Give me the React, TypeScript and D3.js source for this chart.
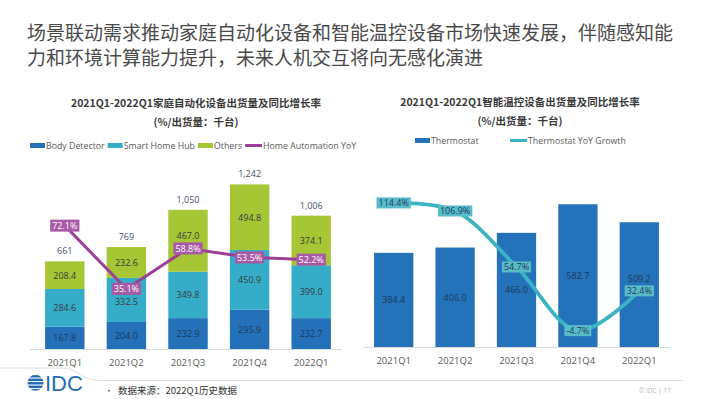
import React, { useEffect, useRef } from "react";
import * as d3 from "d3";

const quarters = ["2021Q1", "2021Q2", "2021Q3", "2021Q4", "2022Q1"];
const bodyDetector = [167.8, 204.0, 232.9, 295.9, 232.7];
const smartHomeHub = [284.6, 332.5, 349.8, 450.9, 399.0];
const others = [208.4, 232.6, 467.0, 494.8, 374.1];
const homeTotals = [661, 769, 1050, 1242, 1006];
const homeYoY = [72.1, 35.1, 58.8, 53.5, 52.2];
const thermostat = [384.4, 406.0, 466.0, 582.7, 509.2];
const thermostatYoY = [114.4, 106.9, 54.7, -4.7, 32.4];

const titleLines = [
  "场景联动需求推动家庭自动化设备和智能温控设备市场快速发展，伴随感知能",
  "力和环境计算能力提升，未来人机交互将向无感化演进",
];
const leftTitle = "2021Q1-2022Q1家庭自动化设备出货量及同比增长率";
const rightTitle = "2021Q1-2022Q1智能温控设备出货量及同比增长率";
const unitTitle = "(%/出货量：千台)";
const leftLegend = ["Body Detector", "Smart Home Hub", "Others", "Home Automation YoY"];
const rightLegend = ["Thermostat", "Thermostat YoY Growth"];
const sourceText = "数据来源：2022Q1历史数据";

const C = {
  body: "#2470b9",
  hub: "#35adc9",
  others: "#a7c636",
  purple: "#9d3f98",
  purpleBox: "#a75aa5",
  thermo: "#2472b9",
  teal: "#3cb3c2",
  tealBox: "#58bcc8",
  text: "#3a3a3a",
};

const LATIN = "'Open Sans', 'Noto Sans', sans-serif";
const CJK = "'Noto Sans CJK SC', 'Noto Sans', sans-serif";

const fmt1 = (v: number) => d3.format(".1f")(v).replace("\u2212", "-");

export default function App() {
  const ref = useRef<SVGSVGElement>(null);

  useEffect(() => {
    const svg = d3.select(ref.current);
    svg.selectAll("*").remove();

    // Headline
    svg
      .selectAll("text.headline")
      .data(titleLines)
      .enter()
      .append("text")
      .attr("x", 27)
      .attr("y", (_d, i) => 40 + i * 25)
      .attr("font-family", CJK)
      .attr("font-size", 19)
      .attr("fill", "#4a4a4a")
      .text((d) => d);

    const chartTitle = (cx: number, y: number, t: string, sub: string) => {
      [t, sub].forEach((s, k) => {
        svg
          .append("text")
          .attr("x", cx)
          .attr("y", y + k * 18.5)
          .attr("text-anchor", "middle")
          .attr("dominant-baseline", "central")
          .attr("font-family", CJK)
          .attr("font-weight", 700)
          .attr("font-size", 10.5)
          .attr("fill", "#3a3a3a")
          .text(s);
      });
    };
    chartTitle(196, 102.5, leftTitle, unitTitle);
    chartTitle(520, 101.5, rightTitle, unitTitle);

    const legendItem = (
      g: d3.Selection<SVGGElement, unknown, null, undefined>,
      x: number,
      y: number,
      label: string,
      color: string,
      isLine: boolean
    ) => {
      if (isLine) {
        g.append("line")
          .attr("x1", x)
          .attr("x2", x + 17)
          .attr("y1", y)
          .attr("y2", y)
          .attr("stroke", color)
          .attr("stroke-width", 3);
      } else {
        g.append("rect")
          .attr("x", x)
          .attr("y", y - 2.5)
          .attr("width", 15)
          .attr("height", 5)
          .attr("fill", color);
      }
      const t = g
        .append("text")
        .attr("x", x + (isLine ? 17 : 15) + 1)
        .attr("y", y)
        .attr("dominant-baseline", "central")
        .attr("font-family", LATIN)
        .attr("font-size", 8.8)
        .attr("fill", "#595959")
        .text(label);
      return (t.node() as SVGTextElement).getComputedTextLength();
    };

    const pctLabel = (
      g: d3.Selection<SVGGElement, unknown, null, undefined>,
      cx: number,
      cy: number,
      v: number,
      fill: string,
      textFill: string,
      h: number
    ) => {
      const gg = g.append("g");
      const r = gg.append("rect").attr("fill", fill);
      const t = gg
        .append("text")
        .attr("x", cx)
        .attr("y", cy)
        .attr("text-anchor", "middle")
        .attr("dominant-baseline", "central")
        .attr("font-family", LATIN)
        .attr("font-size", 9)
        .attr("fill", textFill)
        .text(fmt1(v) + "%");
      const w = (t.node() as SVGTextElement).getComputedTextLength();
      r.attr("x", cx - w / 2 - 2)
        .attr("y", cy - h / 2)
        .attr("width", w + 4)
        .attr("height", h);
    };

    // bar label placement: moved off a percent box when they collide
    const placeLabel = (mid: number, boxY: number, h: number) => {
      if (Math.abs(mid - boxY) < 9) return boxY - h / 2 - 7;
      if (mid > boxY && mid - boxY < 13) return boxY + h / 2 + 6.8;
      return mid;
    };

    // ---------------- Left chart ----------------
    const L = svg.append("g");
    const lBase = 349;
    const xL = d3.scaleBand<string>().domain(quarters).range([34, 342]).paddingInner(0.36).paddingOuter(0.18);
    const yL = d3.scaleLinear().domain([0, 1400]).range([lBase, lBase - 185.6]);
    const pL = d3.scaleLinear().domain([0, 100]).range([lBase, lBase - 171.1]);

    {
      const lg = L.append("g");
      const colors = [C.body, C.hub, C.others, C.purple];
      let x = 30;
      leftLegend.forEach((lab, i) => {
        const w = legendItem(lg, x, 145.5, lab, colors[i], i === 3);
        x += (i === 3 ? 17 : 15) + 1 + w + 3;
      });
    }

    L.append("line")
      .attr("x1", 30)
      .attr("x2", 342)
      .attr("y1", lBase + 0.5)
      .attr("y2", lBase + 0.5)
      .attr("stroke", "#d9d9d9");

    const stackData = quarters.map((q, i) => ({
      q,
      i,
      body: bodyDetector[i],
      hub: smartHomeHub[i],
      others: others[i],
    }));
    const keys = ["body", "hub", "others"];
    const stack = d3.stack<any>().keys(keys)(stackData);
    const segColors: Record<string, string> = { body: C.body, hub: C.hub, others: C.others };

    const barsL = L.append("g");
    const labelsL = L.append("g");
    stack.forEach((layer) => {
      const key = layer.key;
      layer.forEach((d: any) => {
        const q = d.data.q;
        barsL
          .append("rect")
          .attr("x", xL(q)!)
          .attr("y", yL(d[1]))
          .attr("width", xL.bandwidth())
          .attr("height", yL(d[0]) - yL(d[1]))
          .attr("fill", segColors[key]);
        const mid = (yL(d[0]) + yL(d[1])) / 2;
        labelsL
          .append("text")
          .attr("x", xL(q)! + xL.bandwidth() / 2)
          .attr("y", placeLabel(mid, pL(homeYoY[d.data.i]), 12))
          .attr("text-anchor", "middle")
          .attr("dominant-baseline", "central")
          .attr("font-family", LATIN)
          .attr("font-size", 9)
          .attr("fill", key === "body" ? "#1f3a5c" : "#3a3a3a")
          .text(fmt1(d.data[key]));
      });
    });

    quarters.forEach((q, i) => {
      L.append("text")
        .attr("x", xL(q)! + xL.bandwidth() / 2)
        .attr("y", yL(homeTotals[i]) - 10.5)
        .attr("text-anchor", "middle")
        .attr("dominant-baseline", "central")
        .attr("font-family", LATIN)
        .attr("font-size", 9)
        .attr("fill", "#44546a")
        .text(d3.format(",")(homeTotals[i]));
    });

    const lineL = d3
      .line<number>()
      .x((_d, i) => xL(quarters[i])! + xL.bandwidth() / 2)
      .y((d) => pL(d));
    L.append("path")
      .attr("d", lineL(homeYoY)!)
      .attr("fill", "none")
      .attr("stroke", C.purple)
      .attr("stroke-width", 3)
      .attr("stroke-linejoin", "round");

    homeYoY.forEach((v, i) => {
      pctLabel(L, xL(quarters[i])! + xL.bandwidth() / 2, pL(v), v, C.purpleBox, "#ffffff", 12);
    });

    quarters.forEach((q) => {
      L.append("text")
        .attr("x", xL(q)! + xL.bandwidth() / 2)
        .attr("y", 362.5)
        .attr("text-anchor", "middle")
        .attr("dominant-baseline", "central")
        .attr("font-family", LATIN)
        .attr("font-size", 9.5)
        .attr("fill", "#595959")
        .text(q);
    });

    // ---------------- Right chart ----------------
    const R = svg.append("g");
    const rBase = 347;
    const xR = d3.scaleBand<string>().domain(quarters).range([363, 670]).paddingInner(0.36).paddingOuter(0.18);
    const yR = d3.scaleLinear().domain([0, 700]).range([rBase, rBase - 171.5]);
    const pR = d3.scaleLinear().domain([-20, 140]).range([rBase, rBase - 171.5]);

    {
      const lg = R.append("g");
      legendItem(lg, 415, 140.5, rightLegend[0], C.thermo, false);
      legendItem(lg, 510, 140.5, rightLegend[1], C.teal, true);
    }

    R.append("line")
      .attr("x1", 363)
      .attr("x2", 670)
      .attr("y1", rBase + 0.5)
      .attr("y2", rBase + 0.5)
      .attr("stroke", "#d9d9d9");

    thermostat.forEach((v, i) => {
      const q = quarters[i];
      R.append("rect")
        .attr("x", xR(q)!)
        .attr("y", yR(v))
        .attr("width", xR.bandwidth())
        .attr("height", yR(0) - yR(v))
        .attr("fill", C.thermo);
      const mid = (yR(0) + yR(v)) / 2;
      R.append("text")
        .attr("x", xR(q)! + xR.bandwidth() / 2)
        .attr("y", placeLabel(mid, pR(thermostatYoY[i]), 11))
        .attr("text-anchor", "middle")
        .attr("dominant-baseline", "central")
        .attr("font-family", LATIN)
        .attr("font-size", 9)
        .attr("fill", "#1f3a5c")
        .text(fmt1(v));
    });

    const lineR = d3
      .line<number>()
      .x((_d, i) => xR(quarters[i])! + xR.bandwidth() / 2)
      .y((d) => pR(d))
      .curve(d3.curveCatmullRom.alpha(0.5));
    R.append("path")
      .attr("d", lineR(thermostatYoY)!)
      .attr("fill", "none")
      .attr("stroke", C.teal)
      .attr("stroke-width", 3.8)
      .attr("stroke-linecap", "round");

    thermostatYoY.forEach((v, i) => {
      pctLabel(R, xR(quarters[i])! + xR.bandwidth() / 2, pR(v), v, C.tealBox, "#1f3a5c", 11);
    });

    quarters.forEach((q) => {
      R.append("text")
        .attr("x", xR(q)! + xR.bandwidth() / 2)
        .attr("y", 360)
        .attr("text-anchor", "middle")
        .attr("dominant-baseline", "central")
        .attr("font-family", LATIN)
        .attr("font-size", 9.5)
        .attr("fill", "#595959")
        .text(q);
    });

    // ---------------- Footer ----------------
    svg
      .append("path")
      .attr("d", "M0,368 H62 C80,368 80,380.5 100,380.5 H683")
      .attr("fill", "none")
      .attr("stroke", "#e0e0e0")
      .attr("stroke-width", 1);

    const logo = svg.append("g");
    const defs = svg.append("defs");
    defs
      .append("clipPath")
      .attr("id", "globeClip")
      .append("circle")
      .attr("cx", 35.5)
      .attr("cy", 382.8)
      .attr("r", 8);
    const stripes = logo.append("g").attr("clip-path", "url(#globeClip)");
    [375.5, 379, 382.5, 386, 389.5].forEach((y) => {
      stripes
        .append("rect")
        .attr("x", 26)
        .attr("y", y - 0.4)
        .attr("width", 20)
        .attr("height", 2.4)
        .attr("fill", "#1f6db5");
    });
    logo
      .append("text")
      .attr("x", 45)
      .attr("y", 391)
      .attr("font-family", "'Liberation Sans', Arial, sans-serif")
      .attr("font-size", 22)
      .attr("fill", "#1f6db5")
      .text("IDC");

    svg
      .append("text")
      .attr("x", 105)
      .attr("y", 390)
      .attr("dominant-baseline", "central")
      .attr("font-family", CJK)
      .attr("font-size", 8)
      .attr("fill", "#333")
      .text("•");
    svg
      .append("text")
      .attr("x", 118)
      .attr("y", 390)
      .attr("dominant-baseline", "central")
      .attr("font-family", CJK)
      .attr("font-size", 9.5)
      .attr("fill", "#333")
      .text(sourceText);
    svg
      .append("text")
      .attr("x", 671)
      .attr("y", 390)
      .attr("text-anchor", "end")
      .attr("dominant-baseline", "central")
      .attr("font-family", LATIN)
      .attr("font-size", 6.5)
      .attr("fill", "#b5b5b5")
      .text("© IDC  |  17");
  }, []);

  return (
    <svg
      ref={ref}
      width={710}
      height={399}
      style={{ position: "absolute", left: 0, top: 0, background: "#fff" }}
    />
  );
}
